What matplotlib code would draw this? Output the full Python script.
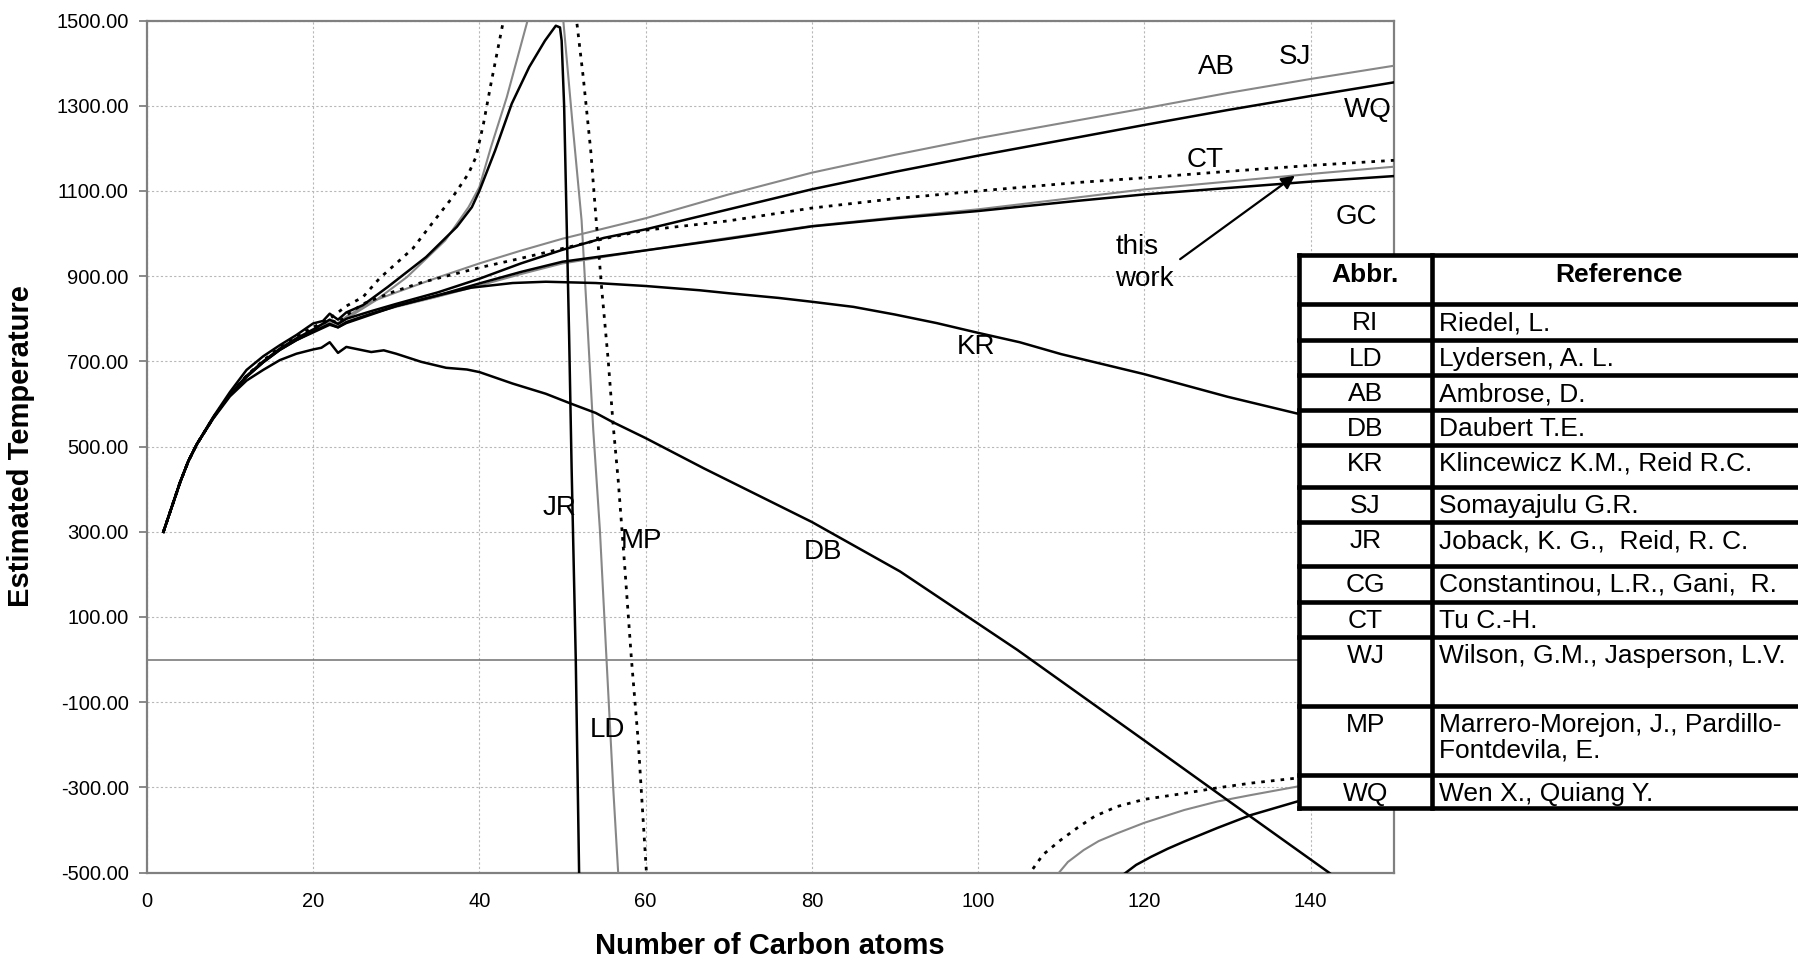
import numpy as np
import matplotlib.pyplot as plt
from matplotlib.patches import Rectangle

plt.rcParams['font.family'] = ['Liberation Sans', 'DejaVu Sans']

# estimated critical temperature vs carbon number
x_ab = [2, 3, 4, 5, 6, 8, 10, 12, 14, 16, 18, 20, 22, 23, 24, 27, 30, 35, 40, 45, 50, 60, 70, 80, 90, 100, 110, 120, 130, 140, 150]
t_ab = [300, 358, 416, 466, 505, 568, 622, 664, 698, 728, 752, 772, 795, 790, 805, 840, 862, 897, 930, 960, 988, 1036, 1092, 1143, 1185, 1224, 1259, 1294, 1330, 1363, 1394]

x_wq = [2, 3, 4, 5, 6, 8, 10, 12, 14, 16, 18, 20, 22, 23, 24, 27, 30, 35, 40, 45, 50, 55, 60, 70, 80, 90, 100, 112, 120, 130, 140, 150]
t_wq = [300, 358, 416, 466, 505, 568, 622, 666, 700, 730, 754, 775, 798, 788, 800, 818, 835, 862, 894, 930, 962, 990, 1010, 1057, 1104, 1145, 1183, 1226, 1255, 1290, 1323, 1355]

x_ct = [2, 3, 4, 5, 6, 8, 10, 12, 14, 16, 18, 20, 22, 23, 24, 26, 29.6, 33, 36.4, 40, 45, 50, 55, 60, 66.5, 70, 80, 90, 100, 112, 120, 130, 140, 150]
t_ct = [300, 358, 416, 466, 505, 568, 622, 666, 700, 730, 755, 775, 798, 790, 808, 835, 863, 885, 902, 920, 942, 965, 988, 1008, 1022, 1030, 1060, 1082, 1100, 1120, 1131, 1146, 1160, 1172]

x_gc = [2, 3, 4, 5, 6, 8, 10, 12, 14, 16, 18, 20, 22, 23, 24, 27, 30, 35, 40, 45, 50, 59.4, 70, 80, 90, 100, 112, 120, 130, 140, 150]
t_gc = [300, 358, 416, 466, 505, 568, 622, 664, 698, 728, 751, 770, 790, 782, 793, 812, 828, 852, 878, 905, 930, 959, 990, 1018, 1038, 1057, 1085, 1104, 1122, 1140, 1157]

x_tw = [2, 3, 4, 5, 6, 8, 10, 12, 14, 16, 18, 20, 22, 23, 24, 27, 30, 35, 40, 45, 50, 59.4, 70, 80, 90, 100, 112, 120, 130, 140, 150]
t_tw = [300, 358, 416, 466, 505, 568, 622, 664, 698, 727, 750, 770, 788, 780, 792, 812, 830, 855, 883, 910, 934, 959, 988, 1017, 1036, 1053, 1077, 1092, 1107, 1122, 1135]

x_kr = [2, 3, 4, 5, 6, 8, 10, 12, 14, 16, 18, 20, 22, 23, 24, 27, 30, 35, 39, 44, 48, 54, 60, 66.5, 70, 76, 80, 85, 90, 95, 100, 105, 110, 120, 130, 140, 150]
t_kr = [300, 358, 416, 466, 505, 568, 622, 664, 698, 727, 750, 768, 786, 780, 790, 810, 830, 855, 873, 884, 887, 884, 877, 867, 860, 849, 840, 828, 810, 790, 767, 745, 717, 670, 617, 570, 530]

x_db = [2, 3, 4, 5, 6, 8, 10, 12, 14, 16, 18, 20, 21, 22, 23, 24, 25, 27, 28.5, 30, 33, 36, 38.5, 40, 44, 48, 51, 54, 56, 60, 67, 80, 90.6, 104.7, 120, 130, 142.2, 146]
t_db = [300, 358, 416, 466, 505, 566, 618, 655, 680, 703, 718, 728, 732, 745, 720, 734, 730, 722, 726, 718, 699, 685, 681, 675, 648, 624, 601, 579, 558, 520, 449, 323, 207, 23, -190, -330, -500, -556]

x_jr = [2, 3, 4, 5, 6, 8, 10, 12, 14, 16, 18, 20, 21.2, 22, 23, 24, 26, 29, 33.6, 37.3, 39.1, 40, 41.9, 43.9, 46, 47.9, 49.2, 49.7, 49.9, 50.2, 50.5, 50.8, 51.1, 51.6, 52.0, 52.05]
t_jr = [300, 358, 416, 466, 505, 570, 628, 680, 712, 738, 762, 789, 795, 812, 798, 815, 832, 875, 945, 1016, 1062, 1100, 1195, 1305, 1391, 1453, 1488, 1484, 1453, 1300, 1030, 760, 450, 0, -500, -510]
x_jr_tail = [117.1, 119, 120.8, 122.8, 124.8, 128.8, 132.8, 138.4, 150]
t_jr_tail = [-510, -482, -463, -444, -427, -395, -365, -333, -275]

x_ld = [2, 3, 4, 5, 6, 8, 10, 12, 14, 16, 18, 20, 22, 23, 24, 27.6, 31.3, 35.9, 38.7, 40, 41.4, 43.3, 45.8, 46.0, np.nan,
        49.95, 50.1, 51.2, 52.3, 53.0, 53.7, 54.5, 55.3, 56.1, 56.7, 56.75]
t_ld = [300, 358, 416, 466, 505, 568, 622, 666, 700, 730, 754, 772, 796, 786, 800, 844, 898, 984, 1062, 1109, 1203, 1320, 1500, 1515, np.nan,
        1515, 1500, 1260, 1031, 790, 540, 305, 0, -300, -500, -510]
x_ld_tail = [109.3, 110.8, 112.7, 114.5, 116.7, 120, 124.8, 128.8, 132.8, 138.4, 150]
t_ld_tail = [-510, -475, -447, -426, -408, -383, -353, -333, -318, -298, -272]

x_mp = [2, 3, 4, 5, 6, 8, 10, 12, 14, 16, 18, 20, 22, 22.8, 24, 26, 28, 32, 34, 36.8, 38.7, 39.6, 40.5, 41.4, 42.9, 43.0, np.nan,
        51.6, 51.7, 52.5, 53.4, 54.1, 54.7, 55.5, 56.1, 56.7, 57.5, 58.3, 59.1, 60.1, 60.15]
t_mp = [300, 358, 416, 466, 505, 568, 622, 666, 702, 733, 760, 780, 800, 812, 830, 851, 895, 965, 1016, 1086, 1141, 1180, 1258, 1352, 1500, 1515, np.nan,
        1515, 1500, 1367, 1195, 1020, 875, 703, 550, 422, 216, 0, -188, -500, -510]
x_mp_tail = [105.9, 107.8, 109.9, 112, 114, 116.7, 120, 124.8, 128.8, 132.8, 138.4, 150]
t_mp_tail = [-510, -458, -424, -394, -368, -345, -328, -314, -301, -290, -278, -262]

abbr = ['RI', 'LD', 'AB', 'DB', 'KR', 'SJ', 'JR', 'CG', 'CT', 'WJ', 'MP', 'WQ']
refs = ['Riedel, L.', 'Lydersen, A. L.', 'Ambrose, D.', 'Daubert T.E.',
        'Klincewicz K.M., Reid R.C.', 'Somayajulu G.R.', 'Joback, K. G.,  Reid, R. C.',
        'Constantinou, L.R., Gani,  R.', 'Tu C.-H.', 'Wilson, G.M., Jasperson, L.V.',
        'Marrero-Morejon, J., Pardillo-\nFontdevila, E.', 'Wen X., Quiang Y.']

W, H = 1798, 959
fig = plt.figure(figsize=(W / 100, H / 100), dpi=100)
ax = fig.add_axes([146.8 / W, 86.4 / H, 1247 / W, 852 / H])

grey = '#878787'
dots = (0, (1.3, 2.2))

ax.plot(x_ab, t_ab, color=grey, lw=1.5, zorder=3)
ax.plot(x_gc, t_gc, color=grey, lw=1.5, zorder=3)
ax.plot(x_ld, t_ld, color=grey, lw=1.5, zorder=3)
ax.plot(x_ld_tail, t_ld_tail, color=grey, lw=1.5, zorder=3)
ax.plot(x_ct, t_ct, color='black', lw=2.0, ls=dots, zorder=4)
ax.plot(x_mp, t_mp, color='black', lw=2.0, ls=dots, zorder=4)
ax.plot(x_mp_tail, t_mp_tail, color='black', lw=2.0, ls=dots, zorder=4)
for xs, ts in [(x_wq, t_wq), (x_tw, t_tw), (x_kr, t_kr), (x_db, t_db),
               (x_jr, t_jr), (x_jr_tail, t_jr_tail)]:
    ax.plot(xs, ts, color='black', lw=1.8, zorder=4)

ax.axhline(0, color='#707070', lw=1.1, zorder=2)

ax.set_xlim(0, 150)
ax.set_ylim(-500, 1500)
ax.set_xticks(range(0, 141, 20))
ax.set_yticks(range(-500, 1501, 200))
ax.yaxis.set_major_formatter(plt.FormatStrFormatter('%.2f'))
ax.tick_params(axis='y', length=6, width=1.3, color='#808080', pad=7, labelsize=14.5)
ax.tick_params(axis='x', length=0, pad=14, labelsize=14.5)
ax.grid(True, color='#b8b8b8', lw=0.8, ls=(0, (2, 2)), zorder=0)
for s in ax.spines.values():
    s.set_color('#808080')
    s.set_linewidth(1.6)

fig.text(770 / W, 1 - 946 / H, 'Number of Carbon atoms', ha='center', va='center',
         fontsize=21, fontweight='bold')
fig.text(21 / W, 1 - 446 / H, 'Estimated Temperature', ha='center', va='center',
         rotation=90, fontsize=21, fontweight='bold')

# curve labels
lab = dict(fontsize=20, ha='center', va='center', zorder=6)
ax.text(128.7, 1392, 'AB', **lab)
ax.text(138.1, 1415, 'SJ', **lab)
ax.text(146.9, 1290, 'WQ', **lab)
ax.text(127.3, 1173, 'CT', **lab)
ax.text(145.5, 1040, 'GC', **lab)
ax.text(99.7, 733, 'KR', **lab)
ax.text(49.7, 355, 'JR', **lab)
ax.text(59.5, 278, 'MP', **lab)
ax.text(81.3, 253, 'DB', **lab)
ax.text(55.4, -165, 'LD', **lab)
ax.text(116.5, 932, 'this\nwork', fontsize=20, ha='left', va='center', linespacing=1.3, zorder=6)
ax.annotate('', xy=(138.1, 1136), xytext=(124.3, 940),
            arrowprops=dict(arrowstyle='-|>', color='black', lw=1.6, mutation_scale=20,
                            shrinkA=0, shrinkB=0), zorder=6)

# reference table drawn in figure pixels
tab = fig.add_axes([0, 0, 1, 1], zorder=10)
tab.set_xlim(0, W)
tab.set_ylim(H, 0)
tab.axis('off')
tab.patch.set_visible(False)

cols = [1299, 1432, 1806]
rows = [255, 304.4, 339.8, 375.1, 410.0, 445.0, 487.0, 522.4, 565.9, 602.0, 637.3, 706.1, 774.9, 808.4]
tab.add_patch(Rectangle((cols[0], rows[0]), cols[2] - cols[0], rows[-1] - rows[0],
                        facecolor='white', edgecolor='none'))
for yy in rows:
    tab.plot([cols[0], cols[2]], [yy, yy], color='black', lw=3.3, solid_capstyle='projecting')
for xx in cols:
    tab.plot([xx, xx], [rows[0], rows[-1]], color='black', lw=3.3, solid_capstyle='projecting')

tab.text((cols[0] + cols[1]) / 2, rows[0] + 8, 'Abbr.', ha='center', va='top',
         fontsize=19, fontweight='bold')
tab.text((cols[1] + cols[2]) / 2, rows[0] + 8, 'Reference', ha='center', va='top',
         fontsize=19, fontweight='bold')
for i, (a, r) in enumerate(zip(abbr, refs)):
    top = rows[i + 1] + 7
    tab.text((cols[0] + cols[1]) / 2, top, a, ha='center', va='top', fontsize=19)
    tab.text(cols[1] + 7, top, r, ha='left', va='top', fontsize=19, linespacing=1.05)

fig.savefig('out.png', dpi=100)
